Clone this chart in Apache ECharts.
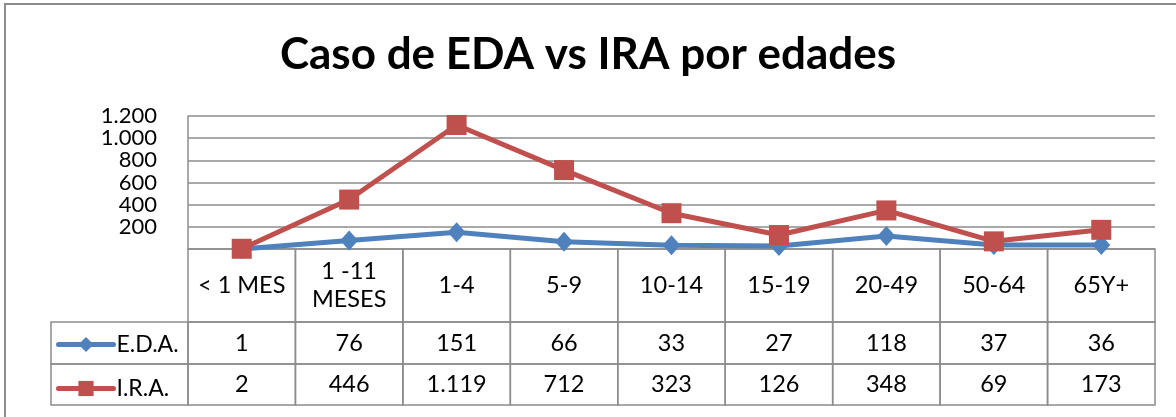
<!DOCTYPE html>
<html>
<head>
<meta charset="utf-8">
<title>Caso de EDA vs IRA por edades</title>
<script src="https://cdn.jsdelivr.net/npm/echarts@6/dist/echarts.min.js"></script>
<style>
  html, body { margin: 0; padding: 0; background: #fff; }
  #chart { width: 1176px; height: 417px; }
</style>
</head>
<body>
<div id="chart"></div>
<script>
// Age groups (table header / x categories)
const categories = ['< 1 MES', '1 -11\nMESES', '1-4', '5-9', '10-14', '15-19', '20-49', '50-64', '65Y+'];
// Series names
const seriesNames = ['E.D.A.', 'I.R.A.'];
// Cases per age group
const edaValues = [1, 76, 151, 66, 33, 27, 118, 37, 36];
const iraValues = [2, 446, 1119, 712, 323, 126, 348, 69, 173];
// Value axis range
const yMin = 0;
const yMax = 1200;
const yStep = 200;

const FONT = 'Lato, "Open Sans", sans-serif';
const BLUE = '#4F81BD';
const RED = '#C0504D';
const GRID_GRAY = '#8c8c8c';

// Thousands separator with a dot (1.119)
function fmt(n) {
  return String(n).replace(/\B(?=(\d{3})+(?!\d))/g, '.');
}

const seriesValues = [edaValues, iraValues];

const chart = echarts.init(document.getElementById('chart'), null, { renderer: 'canvas' });

// Data table under the plot: header row + one row per series, plus legend column
function renderTableColumn(params, api) {
  const i = api.value(0);
  const colW = api.size([1, 0])[0];
  const cx = api.coord([i, 0])[0];
  const top = api.coord([i, 0])[1];
  const bottom = api.coord([i, 1])[1];
  const h = bottom - top;
  const bounds = [top, top + h * 73 / 156, top + h * 115 / 156, bottom];
  const x0 = cx - colW / 2;
  const children = [];
  const cellStyle = { fill: 'none', stroke: GRID_GRAY, lineWidth: 1.5 };
  const textStyleBase = { fill: '#000', font: '23.5px ' + FONT, align: 'center', verticalAlign: 'middle' };
  for (let r = 0; r < 3; r++) {
    children.push({
      type: 'rect',
      shape: { x: x0, y: bounds[r], width: colW, height: bounds[r + 1] - bounds[r] },
      style: cellStyle
    });
    const txt = r === 0 ? categories[i] : fmt(seriesValues[r - 1][i]);
    children.push({
      type: 'text',
      style: Object.assign({ x: cx, y: (bounds[r] + bounds[r + 1]) / 2, text: txt, lineHeight: 28 }, textStyleBase)
    });
  }
  if (i === 0) {
    // legend column cells on the left of the table
    const legendW = 137;
    for (let r = 1; r < 3; r++) {
      children.push({
        type: 'rect',
        shape: { x: x0 - legendW, y: bounds[r], width: legendW, height: bounds[r + 1] - bounds[r] },
        style: cellStyle
      });
    }
  }
  return { type: 'group', children: children };
}

const option = {
  backgroundColor: '#fff',
  animation: false,
  title: {
    text: 'Caso de EDA vs IRA por edades',
    left: 'center',
    top: 28,
    padding: [5, 0, 5, 16],
    textStyle: { fontFamily: FONT, fontSize: 44, fontWeight: 'bold', color: '#000' }
  },
  graphic: [{
    type: 'rect',
    shape: { x: 5, y: 4, width: 1200, height: 440 },
    style: { fill: 'none', stroke: '#8c8c8c', lineWidth: 2 },
    silent: true,
    z: -1
  }],
  legend: {
    data: seriesNames,
    orient: 'vertical',
    left: 56,
    top: 333,
    padding: 0,
    itemWidth: 55,
    itemHeight: 19,
    itemGap: 21,
    lineStyle: { width: 5, cap: 'round' },
    textStyle: { fontFamily: FONT, fontSize: 23, color: '#000', padding: [0, 0, 0, -2] }
  },
  grid: [
    { left: 188, top: 116, width: 967, height: 133 },
    { left: 188, top: 249, width: 967, height: 156 }
  ],
  xAxis: [
    {
      type: 'category', gridIndex: 0, data: categories, boundaryGap: true,
      axisLine: { show: false }, axisTick: { show: false }, axisLabel: { show: false },
      splitLine: { show: false }
    },
    {
      type: 'category', gridIndex: 1, data: categories, boundaryGap: true, show: false
    }
  ],
  yAxis: [
    {
      type: 'value', gridIndex: 0, min: yMin, max: yMax, interval: yStep,
      axisLine: { show: true, lineStyle: { color: GRID_GRAY, width: 1.5 } },
      axisTick: { show: false },
      splitLine: { show: true, lineStyle: { color: GRID_GRAY, width: 1.5 } },
      axisLabel: {
        margin: 31, color: '#000', fontFamily: FONT, fontSize: 22,
        formatter: v => (v === 0 ? '' : fmt(v))
      }
    },
    { type: 'value', gridIndex: 1, min: 0, max: 1, inverse: true, show: false }
  ],
  series: [
    {
      name: 'table',
      type: 'custom',
      xAxisIndex: 1,
      yAxisIndex: 1,
      data: categories.map((c, i) => [i]),
      renderItem: renderTableColumn,
      z: 1,
      silent: true
    },
    {
      name: seriesNames[0],
      type: 'line',
      data: edaValues,
      symbol: 'diamond',
      symbolSize: [18, 20],
      clip: false,
      z: 5,
      lineStyle: { color: BLUE, width: 5 },
      itemStyle: { color: BLUE }
    },
    {
      name: seriesNames[1],
      type: 'line',
      data: iraValues,
      symbol: 'rect',
      symbolSize: 20,
      clip: false,
      z: 6,
      lineStyle: { color: RED, width: 5 },
      itemStyle: { color: RED }
    }
  ]
};

chart.setOption(option);
</script>
</body>
</html>
